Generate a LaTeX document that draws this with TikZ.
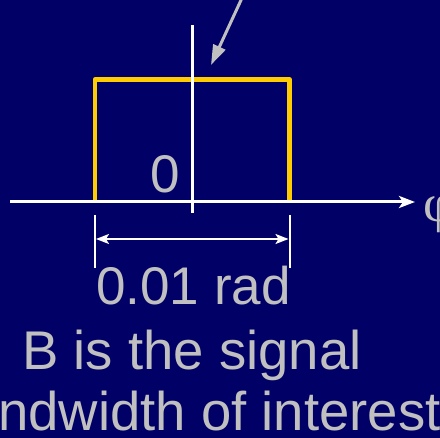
\documentclass[tikz,border=0pt]{standalone}
\usepackage{fontspec}
\setmainfont{Liberation Sans}
\newfontfamily\greekfont{Liberation Serif}
\usetikzlibrary{arrows.meta}
\definecolor{bgnavy}{RGB}{0,0,102}
\definecolor{txtgrey}{RGB}{192,192,192}
\definecolor{pulseyellow}{RGB}{255,204,0}
\tikzset{
  axisline/.style={draw=white, line width=3pt},
  dimline/.style={draw=white, line width=2pt},
  pulse/.style={draw=pulseyellow, line width=4.5pt, line join=round},
  label54/.style={text=txtgrey, inner sep=0pt, anchor=base west, font=\fontsize{53}{60}\selectfont},
  biglabel/.style={text=txtgrey, inner sep=0pt, anchor=base west, font=\fontsize{54.5}{60}\selectfont},
  pointer/.style={draw=txtgrey, line width=3pt, -{Triangle[length=20pt,width=13pt]}}
}
\begin{document}
\begin{tikzpicture}[x=1pt,y=-1pt]
\fill[bgnavy] (0,0) rectangle (440,438);
\useasboundingbox (0,0) rectangle (440,438);
% coordinates
\coordinate (xl) at (10,202);
\coordinate (xr) at (415,202);
\coordinate (vt) at (192,25);
\coordinate (vb) at (192,213);
\coordinate (pl) at (95,202);
\coordinate (plt) at (95,79.5);
\coordinate (prt) at (289.5,79.5);
\coordinate (pr) at (289.5,202);
\coordinate (tl1) at (95,215);
\coordinate (tl2) at (95,268);
\coordinate (tr1) at (289.5,215);
\coordinate (tr2) at (289.5,268);
\coordinate (dl) at (96,239);
\coordinate (dr) at (288.5,239);
\coordinate (ps) at (242,-2);
\coordinate (pe) at (211,65);
% pulse
\draw[pulse] (pl) -- (plt) -- (prt) -- (pr);
% axes
\draw[axisline] (vt) -- (vb);
\draw[axisline, -{Stealth[length=16pt,width=12pt,inset=4pt]}] (xl) -- (xr);
% dimension
\draw[dimline] (tl1) -- (tl2);
\draw[dimline] (tr1) -- (tr2);
\draw[dimline, {Stealth[length=13pt,width=10pt,inset=3pt]}-{Stealth[length=13pt,width=10pt,inset=3pt]}] (dl) -- (dr);
% pointer arrow
\draw[pointer] (ps) -- (pe);
% labels
\node[label54] (zero) at (150,193) {0};
\node[label54] (phi) at (423,222) {\greekfont φ};
\node[label54] (rad) at (96,305) {0.01 rad};
\node[biglabel] (sig) at (22,370) {B is the signal};
\node[biglabel] (bw) at (-2,431) {ndwidth of interest};
\end{tikzpicture}
\end{document}
